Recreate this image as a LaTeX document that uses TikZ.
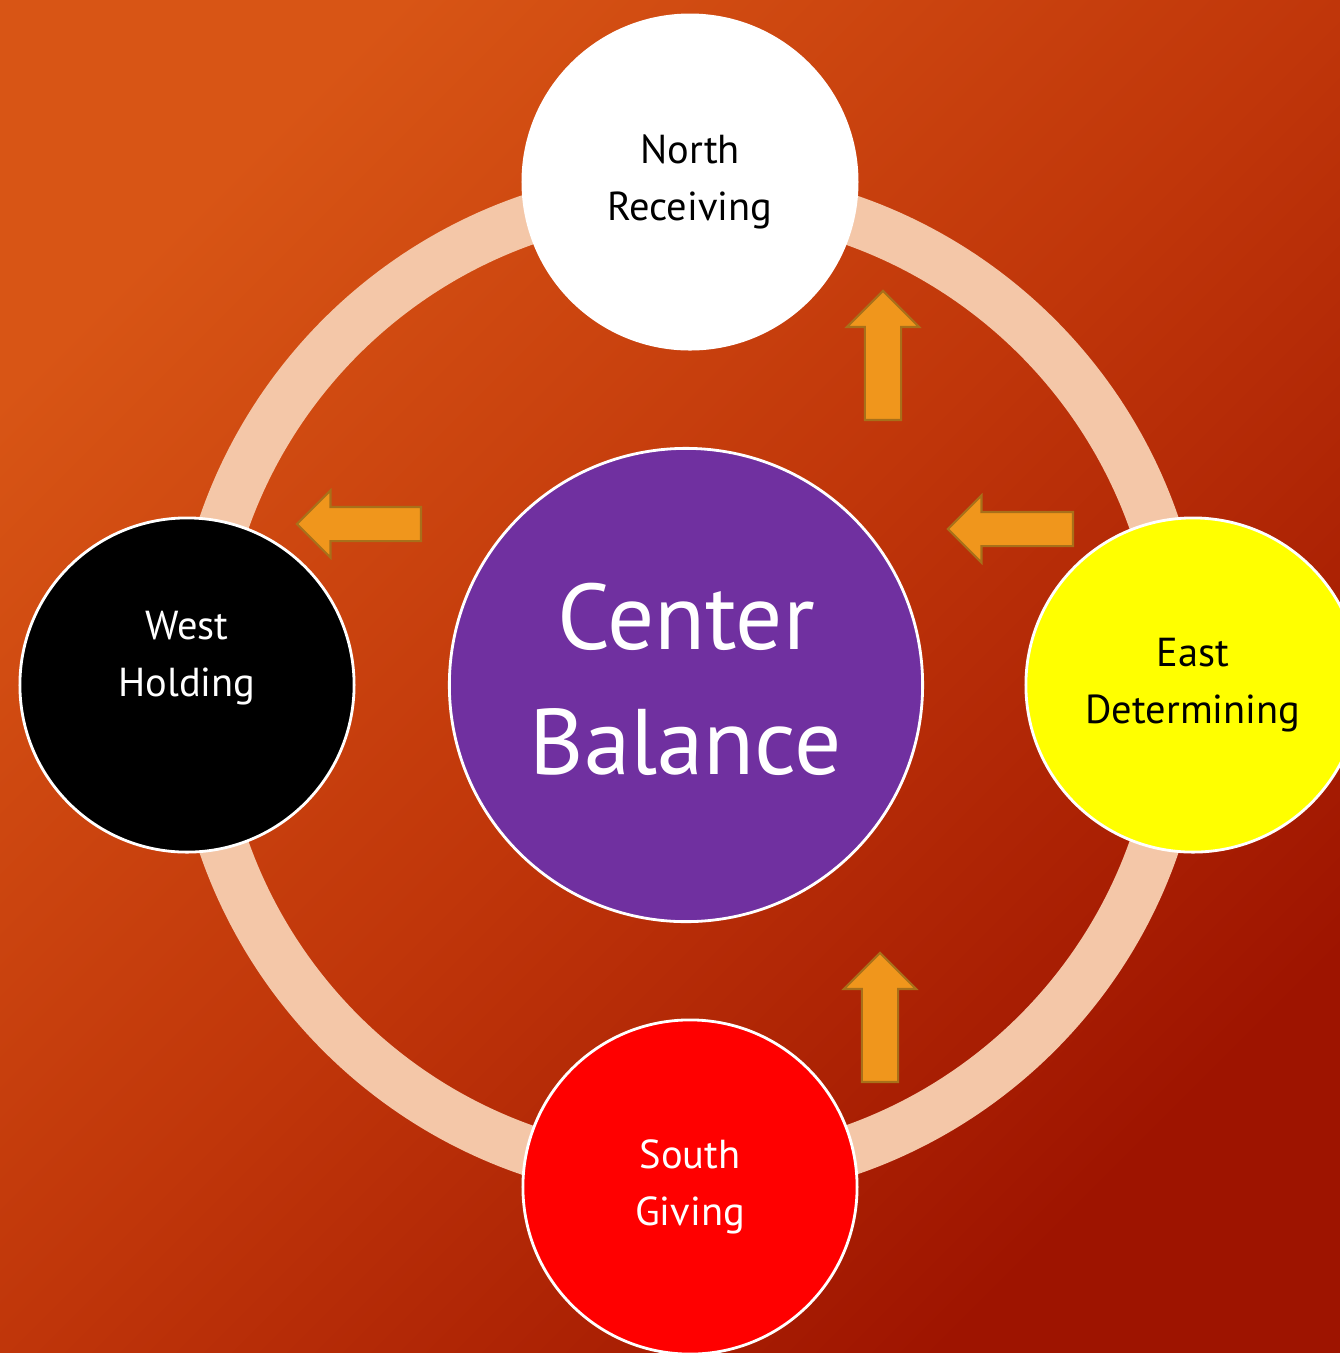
\documentclass[tikz,border=0pt]{standalone}
\usepackage{fontspec}
\setmainfont{PT Sans}
\usetikzlibrary{shapes.arrows}
\definecolor{bgtop}{HTML}{D85515}
\definecolor{bgmid}{HTML}{C0360A}
\definecolor{bgbot}{HTML}{9E1400}
\definecolor{ringpeach}{HTML}{F4C7A8}
\definecolor{balpurple}{HTML}{7030A0}
\definecolor{eastyellow}{HTML}{FFFF00}
\definecolor{southred}{HTML}{FF0000}
\definecolor{arrfill}{HTML}{F0961C}
\definecolor{arrline}{HTML}{A8701A}
\begin{document}
\begin{tikzpicture}[x=0.01cm,y=-0.01cm]
	% size of each circle and arrow
	\def\rsmall{3.34cm}
	\def\rbig{4.73cm}
	\def\rring{4.92cm}
	\def\arrlen{1.29cm}
	% node style definition
	\tikzstyle{quarter} = [draw=white, line width=0.8pt, circle, minimum size=\rsmall, inner sep=0pt, align=center, font=\fontsize{11.5}{16.2}\selectfont];
	\tikzstyle{hub} = [draw=white, line width=0.8pt, circle, minimum size=\rbig, inner sep=0pt, fill=balpurple, text=white, align=center, text depth=0.12cm, font=\fontsize{26.5}{35.6}\selectfont];
	\tikzstyle{flowarrow} = [single arrow, draw=arrline, fill=arrfill, line width=0.6pt, minimum height=\arrlen, inner sep=0.17cm, single arrow head extend=0.18cm, anchor=tail];
	\tikzstyle{sidearrow} = [flowarrow, shape border rotate=180, inner sep=0.16cm, single arrow head extend=0.165cm];
	\tikzstyle{ring} = [draw=ringpeach, line width=0.5cm];
	% background
	\shade[top color=bgtop, bottom color=bgbot, middle color=bgmid, shading angle=45] (0,0) rectangle (1340,1353);
	\useasboundingbox (0,0) rectangle (1340,1353);
	\coordinate (mid) at (689,685);
	\draw[ring] (mid) circle (\rring);
	% the five circles
	\node[hub] (balance) at (686,685) { Center\\Balance };
	\node[quarter, fill=white] (north) at (690,182) { North\\Receiving };
	\node[quarter, fill=black, text=white, text depth=0.62cm] (west) at (187,685) { West\\Holding };
	\node[quarter, fill=eastyellow] (east) at (1193,685) { East\\Determining };
	\node[quarter, fill=southred, text=white] (south) at (690,1187) { South\\Giving };
	% arrows (placed by their tails)
	\node[flowarrow, shape border rotate=90] (upnorth) at (883,421) {};
	\node[sidearrow, minimum height=1.24cm] (leftwest) at (422,524) {};
	\node[sidearrow, minimum height=1.25cm] (lefteast) at (1074,529) {};
	\node[flowarrow, shape border rotate=90] (upsouth) at (880,1083) {};
\end{tikzpicture}
\end{document}
